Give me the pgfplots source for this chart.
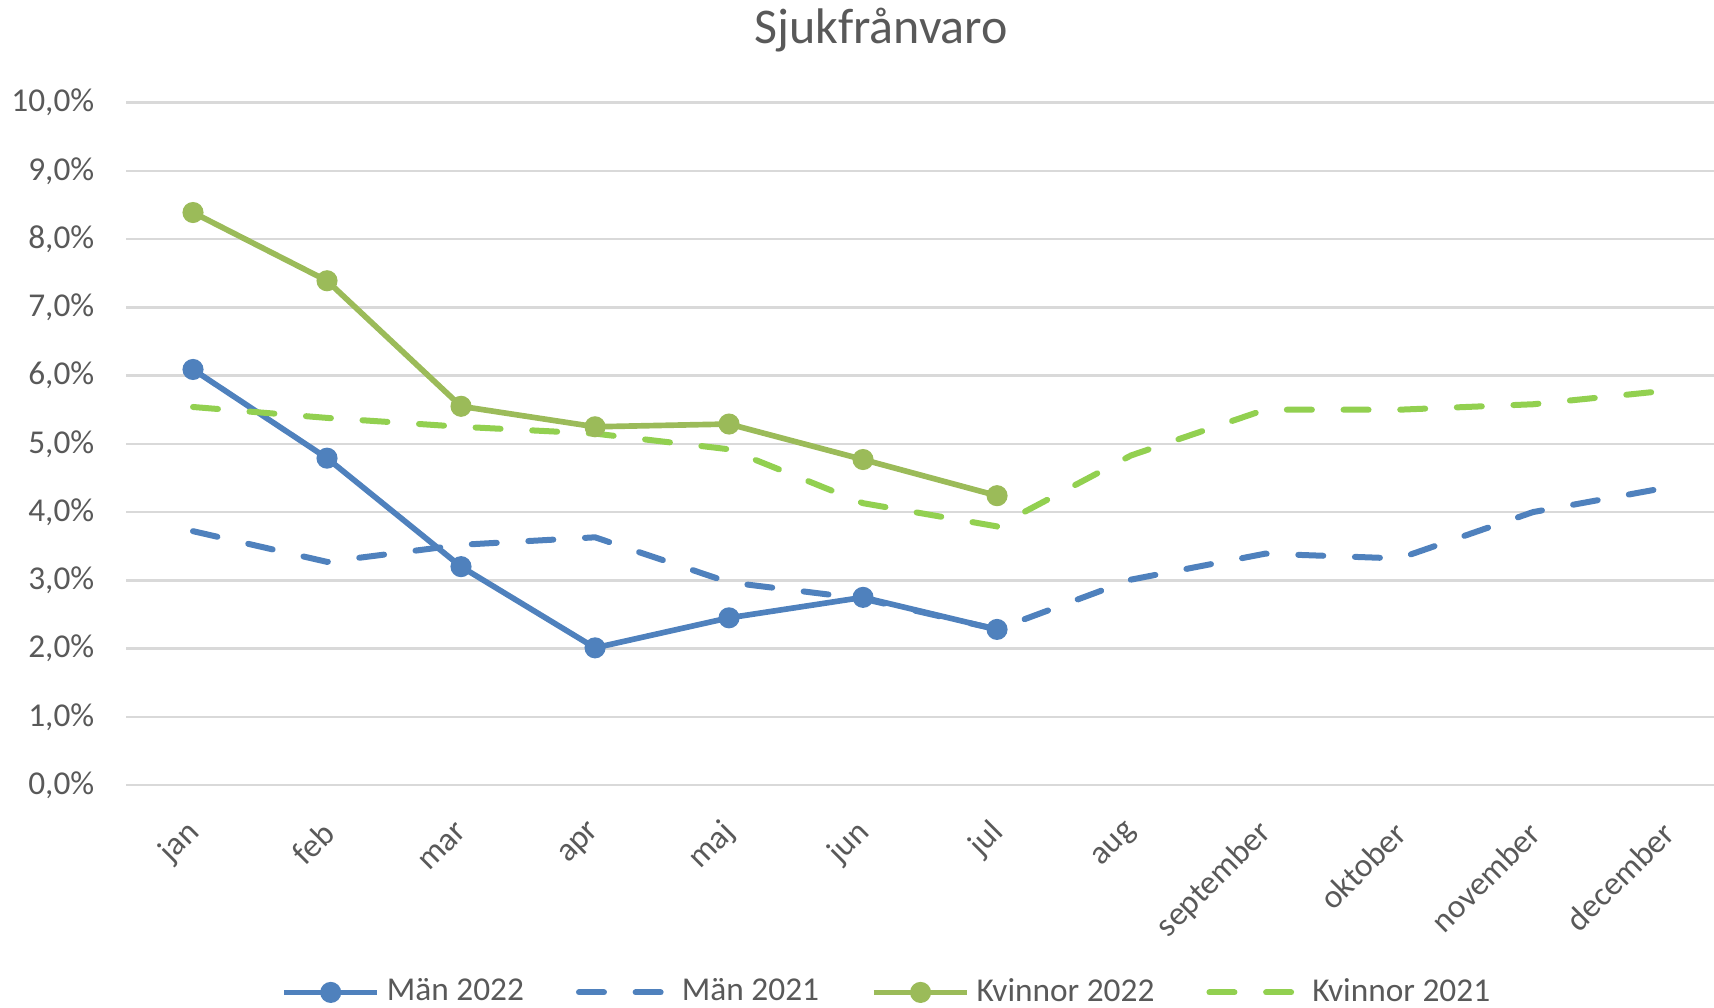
\documentclass[border=0pt]{standalone}
\usepackage{fontspec}
\setmainfont{Carlito}
\usepackage{pgfplots}
\pgfplotsset{compat=1.18}
\definecolor{manblue}{HTML}{4F81BD}
\definecolor{kvgreen}{HTML}{9BBB59}
\definecolor{kvlight}{HTML}{92D050}
\definecolor{txtgray}{HTML}{595959}
\definecolor{gridgray}{HTML}{D9D9D9}
\begin{document}
\begin{tikzpicture}
\useasboundingbox (0pt,0pt) rectangle (514.2pt,302.4pt);
\clip (0pt,0pt) rectangle (514.2pt,302.4pt);
\node[font=\fontsize{15}{18}\selectfont, text=txtgray, anchor=center] at (264.3pt,293.4pt) {Sjukfrånvaro};
\begin{axis}[
  at={(37.8pt,66.9pt)}, anchor=south west,
  scale only axis, width=476.4pt, height=204.7pt,
  xmin=-0.5, xmax=11.35, ymin=0, ymax=10,
  xtick={0,...,11},
  xticklabels={jan,feb,mar,apr,maj,jun,jul,aug,september,oktober,november,december},
  ytick={0,...,10},
  yticklabels={{0,0\%},{1,0\%},{2,0\%},{3,0\%},{4,0\%},{5,0\%},{6,0\%},{7,0\%},{8,0\%},{9,0\%},{10,0\%}},
  axis line style={draw=none},
  major tick style={draw=none},
  ymajorgrids,
  major grid style={color=gridgray, line width=0.75pt},
  every tick label/.append style={font=\fontsize{10}{12}\selectfont, text=txtgray},
  xticklabel style={xshift=2.9pt, yshift=-10.4pt, rotate=45, anchor=east},
  yticklabel style={anchor=east, xshift=-6pt},
  legend columns=4,
  legend style={at={(0.4805,-0.304)}, anchor=center, draw=none, fill=none,
    font=\fontsize{10}{12}\selectfont, text=txtgray,
    /tikz/every even column/.append style={column sep=13.6pt}},
  legend cell align=left,
  legend image code/.code={\draw[mark repeat=2,mark phase=2,#1] plot coordinates {(0pt,0pt)(14pt,0pt)(28pt,0pt)};},
]
\addplot[color=manblue, line width=1.7pt, mark=*, mark size=2.3pt, mark options={solid}]
  coordinates {(0,6.09)(1,4.79)(2,3.20)(3,2.01)(4,2.45)(5,2.75)(6,2.28)};
\addlegendentry{Män 2022}
\addplot[color=manblue, line width=1.8pt, line cap=round, dash pattern=on 7.5pt off 9.5pt]
  coordinates {(0,3.72)(1,3.27)(2,3.52)(3,3.63)(4,2.97)(5,2.73)(6,2.28)(7,3.01)(8,3.39)(9,3.32)(10,4.00)(11,4.36)};
\addlegendentry{Män 2021}
\addplot[color=kvgreen, line width=1.7pt, mark=*, mark size=2.3pt, mark options={solid}]
  coordinates {(0,8.39)(1,7.39)(2,5.55)(3,5.25)(4,5.29)(5,4.77)(6,4.24)};
\addlegendentry{Kvinnor 2022}
\addplot[color=kvlight, line width=1.8pt, line cap=round, dash pattern=on 7.5pt off 9.5pt]
  coordinates {(0,5.54)(1,5.38)(2,5.25)(3,5.15)(4,4.92)(5,4.13)(6,3.79)(7,4.83)(8,5.50)(9,5.50)(10,5.58)(11,5.78)};
\addlegendentry{Kvinnor 2021}
\end{axis}
\end{tikzpicture}
\end{document}
